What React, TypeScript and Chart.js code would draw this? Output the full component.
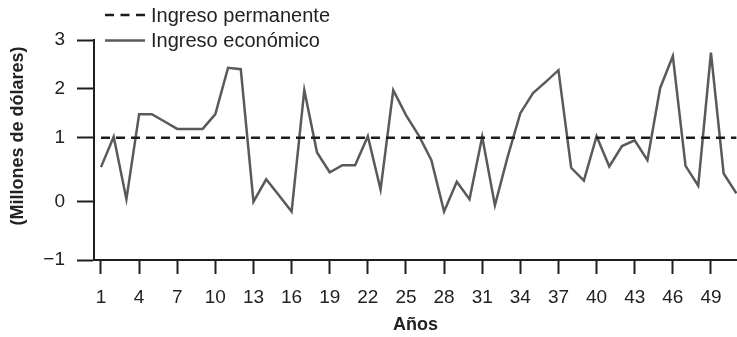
import React, { useEffect, useRef } from "react";
import { Chart, registerables, LinearScale } from "chart.js";

Chart.register(...registerables);

// ---------- data ----------
const years = [
  1, 2, 3, 4, 5, 6, 7, 8, 9, 10, 11, 12, 13, 14, 15, 16, 17, 18, 19, 20, 21, 22, 23, 24, 25,
  26, 27, 28, 29, 30, 31, 32, 33, 34, 35, 36, 37, 38, 39, 40, 41, 42, 43, 44, 45, 46, 47, 48,
  49, 50, 51,
];
const economicIncome = [
  0.54, 1.02, 0.04, 1.48, 1.48, 1.33, 1.18, 1.18, 1.18, 1.48,
  2.43, 2.4, 0.0, 0.35, 0.1, -0.17, 1.97, 0.77, 0.46, 0.57,
  0.57, 1.03, 0.19, 1.97, 1.46, 1.05, 0.65, -0.17, 0.31, 0.04,
  1.02, -0.06, 0.7, 1.5, 1.91, 2.14, 2.38, 0.53, 0.33, 1.03,
  0.55, 0.87, 0.96, 0.65, 2.01, 2.67, 0.56, 0.25, 2.74, 0.44, 0.13,
];
const permanentIncomeLevel = 1;
const xTickLabels = [1, 4, 7, 10, 13, 16, 19, 22, 25, 28, 31, 34, 37, 40, 43, 46, 49];
const yTickValues = [-1, 0, 1, 2, 3];
const seriesLabels = ["Ingreso permanente", "Ingreso económico"];
const xTitle = "Años";
const yTitle = "(Millones de dólares)";

// ---------- non-uniform y scale (as drawn in the original figure) ----------
const Y_VALUE_STOPS = [-1, 0, 1, 2, 3];
const Y_FRACTION_STOPS = [0, 58.3 / 220, 122.3 / 220, 171.3 / 220, 1];

function valueToFraction(v: number) {
  const vs = Y_VALUE_STOPS;
  const fs = Y_FRACTION_STOPS;
  let i = 0;
  if (v <= vs[0]) i = 0;
  else if (v >= vs[vs.length - 1]) i = vs.length - 2;
  else {
    while (i < vs.length - 2 && v > vs[i + 1]) i++;
  }
  const t = (v - vs[i]) / (vs[i + 1] - vs[i]);
  return fs[i] + t * (fs[i + 1] - fs[i]);
}
function fractionToValue(f: number) {
  const vs = Y_VALUE_STOPS;
  const fs = Y_FRACTION_STOPS;
  let i = 0;
  if (f <= fs[0]) i = 0;
  else if (f >= fs[fs.length - 1]) i = fs.length - 2;
  else {
    while (i < fs.length - 2 && f > fs[i + 1]) i++;
  }
  const t = (f - fs[i]) / (fs[i + 1] - fs[i]);
  return vs[i] + t * (vs[i + 1] - vs[i]);
}

class PiecewiseScale extends LinearScale {
  static id = "piecewise";
  static defaults = (LinearScale as any).defaults;
  getPixelForValue(value: number) {
    return this.getPixelForDecimal(valueToFraction(value));
  }
  getValueForPixel(pixel: number) {
    return fractionToValue(this.getDecimalForPixel(pixel));
  }
}
Chart.register(PiecewiseScale as any);

const REGULAR = "'Liberation Sans', Arial, sans-serif";
const BOLD = "'Liberation Sans', Arial, sans-serif";
const AXIS_COLOR = "#1e1e1e";
const TEXT_COLOR = "#222";

const legendPlugin = {
  id: "customLegend",
  afterDraw(chart: any) {
    const ctx = chart.ctx;
    const ds = chart.data.datasets;
    const rows = [
      { lineY: 15, textY: 21.5 },
      { lineY: 40.5, textY: 47 },
    ];
    ctx.save();
    ds.forEach((d: any, i: number) => {
      const r = rows[i];
      ctx.beginPath();
      ctx.strokeStyle = d.borderColor;
      ctx.lineWidth = d.borderWidth;
      ctx.setLineDash(d.borderDash ? [9, 6.5] : []);
      ctx.moveTo(105, r.lineY);
      ctx.lineTo(145, r.lineY);
      ctx.stroke();
      ctx.setLineDash([]);
      ctx.fillStyle = TEXT_COLOR;
      ctx.font = `20px ${REGULAR}`;
      ctx.textAlign = "left";
      ctx.textBaseline = "alphabetic";
      ctx.fillText(d.label, 151, r.textY);
    });
    ctx.restore();
  },
};

const yTitlePlugin = {
  id: "yTitle",
  afterDraw(chart: any) {
    const ctx = chart.ctx;
    ctx.save();
    ctx.translate(18, 136);
    ctx.rotate(-Math.PI / 2);
    ctx.font = `bold 18px ${BOLD}`;
    ctx.fillStyle = TEXT_COLOR;
    ctx.textAlign = "center";
    ctx.textBaseline = "middle";
    ctx.fillText(yTitle, 0, 0);
    ctx.restore();
  },
};

export default function App() {
  const ref = useRef<HTMLCanvasElement | null>(null);

  useEffect(() => {
    if (!ref.current) return;
    const chart = new Chart(ref.current, {
      type: "line",
      data: {
        datasets: [
          {
            label: seriesLabels[0],
            data: years.map((y) => ({ x: y, y: permanentIncomeLevel })),
            borderColor: "#1c1c1c",
            borderWidth: 2.5,
            borderDash: [9, 6],
            pointRadius: 0,
            fill: false,
            tension: 0,
          },
          {
            label: seriesLabels[1],
            data: years.map((y, i) => ({ x: y, y: economicIncome[i] })),
            borderColor: "#5a5a5a",
            borderWidth: 2.5,
            pointRadius: 0,
            fill: false,
            tension: 0,
          },
        ],
      },
      options: {
        animation: false,
        responsive: false,
        maintainAspectRatio: false,
        layout: { padding: { top: 40, right: 0, bottom: 0, left: 0 } },
        plugins: { legend: { display: false }, tooltip: { enabled: false } },
        scales: {
          x: {
            type: "linear",
            min: 0.45,
            max: 51.05,
            afterBuildTicks: (s: any) => {
              s.ticks = xTickLabels.map((v) => ({ value: v }));
            },
            afterFit: (s: any) => {
              s.height = 77;
            },
            grid: {
              drawOnChartArea: false,
              drawTicks: true,
              tickLength: 14,
              tickWidth: 2,
              tickColor: AXIS_COLOR,
            },
            border: { display: true, color: AXIS_COLOR, width: 2 },
            ticks: {
              font: { family: REGULAR, size: 19 },
              color: TEXT_COLOR,
              padding: 12,
              maxRotation: 0,
              autoSkip: false,
              callback: (v: any) => String(v),
            },
            title: {
              display: true,
              text: xTitle,
              font: { family: BOLD, size: 18, weight: "bold", lineHeight: 1 },
              color: TEXT_COLOR,
              padding: { top: 0, bottom: 3 },
            },
          },
          y: {
            type: "piecewise" as any,
            min: -1,
            max: 3,
            afterBuildTicks: (s: any) => {
              s.ticks = yTickValues.map((v) => ({ value: v }));
            },
            afterFit: (s: any) => {
              s.width = 94;
            },
            grid: {
              drawOnChartArea: false,
              drawTicks: true,
              tickLength: 17,
              tickWidth: 2,
              tickColor: AXIS_COLOR,
            },
            border: { display: true, color: AXIS_COLOR, width: 2 },
            ticks: {
              font: { family: REGULAR, size: 19 },
              color: TEXT_COLOR,
              padding: 12,
              callback: (v: any) => (v < 0 ? "\u2212" + Math.abs(v) : String(v)),
            },
          },
        },
      } as any,
      plugins: [legendPlugin, yTitlePlugin],
    });
    return () => chart.destroy();
  }, []);

  return (
    <div style={{ position: "fixed", left: 0, top: 0, width: 737, height: 337, background: "#fff" }}>
      <canvas ref={ref} width={737} height={337} style={{ display: "block" }} />
    </div>
  );
}
